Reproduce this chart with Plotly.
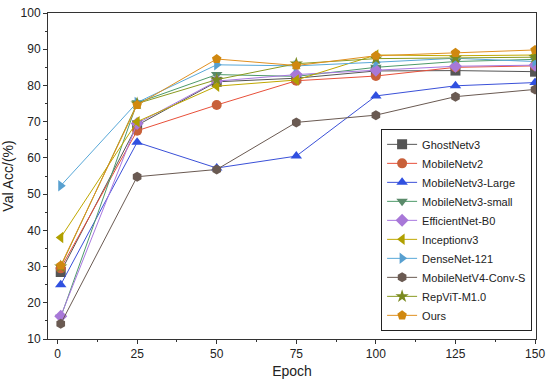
import plotly.graph_objects as go

epochs = [1, 25, 50, 75, 100, 125, 150]

names = ["GhostNetv3", "MobileNetv2", "MobileNetv3-Large", "MobileNetv3-small",
         "EfficientNet-B0", "Inceptionv3", "DenseNet-121", "MobileNetV4-Conv-S",
         "RepViT-M1.0", "Ours"]

ghostnet = [28.5, 69.0, 81.0, 82.0, 84.0, 84.1, 83.8]
mobilenetv2 = [29.5, 67.5, 74.6, 81.3, 82.6, 85.0, 85.4]
mnv3_large = [25.0, 64.3, 57.2, 60.5, 77.1, 79.9, 80.8]
mnv3_small = [16.0, 75.2, 83.0, 82.5, 85.0, 86.6, 87.2]
efficientnet = [16.3, 69.5, 81.2, 83.0, 84.2, 85.3, 85.6]
inception = [38.0, 70.0, 79.8, 81.5, 88.4, 88.2, 88.4]
densenet = [52.3, 75.3, 85.7, 85.4, 86.4, 87.5, 86.6]
mnv4 = [14.2, 54.8, 56.8, 69.8, 71.8, 76.9, 78.9]
repvit = [30.0, 75.0, 81.6, 86.0, 87.4, 87.6, 87.8]
ours = [30.3, 74.6, 87.3, 85.5, 88.2, 89.0, 89.8]

series = [ghostnet, mobilenetv2, mnv3_large, mnv3_small, efficientnet,
          inception, densenet, mnv4, repvit, ours]

line_colors = ["#555555", "#e8503a", "#3a50d8", "#4d9a6a", "#a878e0",
               "#c0a800", "#58a8d8", "#6a5a52", "#8a9a20", "#e09020"]
marker_colors = ["#555555", "#c8603a", "#3050e0", "#5a8a6a", "#a878d8",
                 "#b0a000", "#58a0d0", "#6a5a52", "#7a8a20", "#d08810"]
symbols = ["square", "circle", "triangle-up", "triangle-down", "diamond",
           "triangle-left", "triangle-right", "hexagon", "star", "pentagon"]

fig = go.Figure()
for n, ys, lc, mc, s in zip(names, series, line_colors, marker_colors, symbols):
    fig.add_trace(go.Scatter(
        x=epochs, y=ys, name=n, mode="lines+markers",
        line=dict(color=lc, width=1),
        marker=dict(symbol=s, size=10, color=mc, line=dict(width=0)),
    ))

FONT = "Liberation Sans, Arial"
axis_common = dict(
    showline=True, linecolor="#333333", linewidth=1, mirror=True,
    ticks="outside", ticklen=4, tickcolor="#333333", showgrid=False,
    zeroline=False, automargin=False,
    tickfont=dict(family=FONT, size=12, color="#222222"),
)

fig.update_xaxes(range=[-3.0, 150.3], tickvals=[0, 25, 50, 75, 100, 125, 150],
                 title=dict(text="Epoch", font=dict(family=FONT, size=14, color="#222222"), standoff=5),
                 minor=dict(ticks="outside", ticklen=2, dtick=12.5, tick0=0, tickcolor="#333333"),
                 **axis_common)
fig.update_yaxes(range=[10, 100], tickvals=[10, 20, 30, 40, 50, 60, 70, 80, 90, 100],
                 title=dict(text="Val Acc/(%)", font=dict(family=FONT, size=14, color="#222222"), standoff=4),
                 minor=dict(ticks="outside", ticklen=2, dtick=5, tick0=0, tickcolor="#333333"),
                 **axis_common)

fig.update_layout(
    width=550, height=383,
    margin=dict(l=48, r=14, t=13, b=44),
    plot_bgcolor="white", paper_bgcolor="white",
    legend=dict(x=0.992, y=0.025, xanchor="right", yanchor="bottom",
                bordercolor="#222222", borderwidth=1, bgcolor="white",
                font=dict(family=FONT, size=11, color="#222222"),
                tracegroupgap=0, itemwidth=30),
)

fig.write_html("out.html", config={"displayModeBar": False},
               post_script="document.body.style.margin='0px';document.body.style.overflow='hidden';")
